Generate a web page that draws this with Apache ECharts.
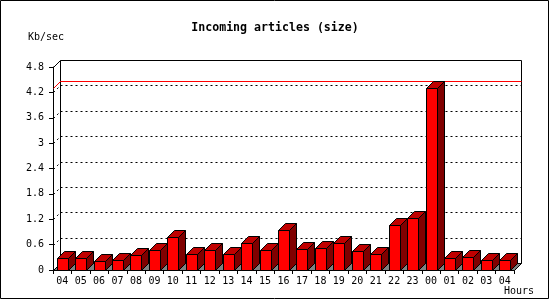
<!DOCTYPE html>
<html>
<head>
<meta charset="utf-8">
<script src="https://cdn.jsdelivr.net/npm/echarts@6/dist/echarts.min.js"></script>
<style>html,body{margin:0;padding:0;background:#fff}#c{width:550px;height:300px}</style>
</head>
<body>
<div id="c"></div>
<script>
const categories = ['04','05','06','07','08','09','10','11','12','13','14','15','16','17','18','19','20','21','22','23','00','01','02','03','04'];
const sizeValues = [0.28,0.28,0.21,0.24,0.35,0.47,0.77,0.37,0.47,0.37,0.63,0.47,0.95,0.50,0.51,0.63,0.45,0.39,1.06,1.22,4.30,0.28,0.30,0.24,0.24];
const yTicks = [0,0.6,1.2,1.8,2.4,3,3.6,4.2,4.8];
const titleText = 'Incoming articles (size)';
const yUnit = 'Kb/sec';
const xUnit = 'Hours';

const DEPTH = 7;
const MONO = '"DejaVu Sans Mono", "Liberation Mono", monospace';
const maxVal = Math.max(...sizeValues);
const yMin = yTicks[0], yMax = yTicks[yTicks.length-1], yInt = yTicks[1]-yTicks[0];

const chart = echarts.init(document.getElementById('c'), null, {renderer:'canvas'});
const h = v => Math.round(v) + 0.5;

const option = {
  animation: false,
  backgroundColor: '#fff',
  title: {
    text: titleText, left: 'center', top: 17,
    textStyle: {fontFamily: MONO, fontWeight: 'bold', fontSize: 11.6, color: '#000'}
  },
  grid: [
    {left: 53, right: 36, top: 67, bottom: 30, show: false}
  ],
  xAxis: [
    {gridIndex: 0, type: 'category', data: categories, boundaryGap: true,
     axisLine: {show: true, lineStyle: {color: '#000', width: 1}},
     axisTick: {show: true, alignWithLabel: false, length: 4, lineStyle: {color: '#000'}},
     axisLabel: {color: '#000', fontFamily: MONO, fontSize: 10, margin: 6, interval: 0},
     splitLine: {show: false}}
  ],
  yAxis: [
    {gridIndex: 0, type: 'value', min: yMin, max: yMax, interval: yInt,
     axisLine: {show: true, lineStyle: {color: '#000', width: 1}},
     axisTick: {show: true, length: 4, lineStyle: {color: '#000'}},
     axisLabel: {color: '#000', fontFamily: MONO, fontSize: 10, margin: 9},
     splitLine: {show: false}}
  ],
  graphic: [
    {id: 'border', type: 'rect', shape: {x: 0.5, y: 0.5, width: 548, height: 298}, style: {fill: null, stroke: '#000', lineWidth: 1}, z: 10},
    {id: 'yu', type: 'text', left: 28, top: 32, style: {text: yUnit, font: '10px ' + MONO, fill: '#000'}},
    {id: 'xu', type: 'text', left: 504, top: 286, style: {text: xUnit, font: '10px ' + MONO, fill: '#000'}}
  ],
  series: [
    {
      type: 'custom', xAxisIndex: 0, yAxisIndex: 0, z: 1, silent: true,
      data: [[0, maxVal]],
      renderItem: function (params, api) {
        const D = DEPTH;
        const slot = api.size([1, 0])[0];
        const n = categories.length;
        const x = h(api.coord([0, yMin])[0] - slot / 2);
        const xr = h(api.coord([n - 1, yMin])[0] + slot / 2);
        const yt = h(api.coord([0, yMax])[1]);
        const yb = h(api.coord([0, yMin])[1]);
        const children = [];
        // back wall
        children.push({type: 'rect', shape: {x: x + D, y: yt - D, width: xr - x, height: yb - yt},
          style: {fill: '#fff', stroke: '#000', lineWidth: 1}});
        yTicks.forEach(function (t) {
          if (t === yMin || t === yMax) return;
          const py = h(api.coord([0, t])[1]);
          children.push({type: 'line', shape: {x1: x + D, y1: py - D, x2: xr + D, y2: py - D},
            style: {stroke: '#000', lineWidth: 1, lineDash: [2, 3]}});
        });
        // floor
        children.push({type: 'polygon', shape: {points: [[x, yb],[xr, yb],[xr+D, yb-D],[x+D, yb-D]]},
          style: {fill: '#808080', stroke: '#000', lineWidth: 1}});
        // side wall diagonals
        yTicks.forEach(function (t) {
          if (t === yMin) return;
          const py = h(api.coord([0, t])[1]);
          children.push({type: 'line', shape: {x1: x, y1: py, x2: x + D, y2: py - D},
            style: {stroke: '#000', lineWidth: 1, lineDash: t === yMax ? null : [2, 3]}});
        });
        // max line
        const my = h(api.coord([0, api.value(1)])[1]);
        children.push({type: 'polyline', shape: {points: [[x, my],[x+D, my-D],[xr+D, my-D]]},
          style: {stroke: '#ff0000', lineWidth: 1, fill: null}});
        return {type: 'group', children: children};
      }
    },
    {
      type: 'custom', xAxisIndex: 0, yAxisIndex: 0, z: 3, silent: true,
      data: sizeValues.map((v, i) => [i, v]),
      renderItem: function (params, api) {
        const i = api.value(0), v = api.value(1);
        const p0 = api.coord([i, 0]);
        const p1 = api.coord([i, v]);
        const slot = api.size([1, 0])[0];
        const w = Math.round(slot * 0.6);
        const x0 = Math.round(p0[0] - w / 2) + 0.5;
        const yb = h(p0[1]);
        const yt = h(p1[1]);
        const d = DEPTH;
        const st = {stroke: '#000', lineWidth: 1};
        return {type: 'group', children: [
          {type: 'polygon', shape: {points: [[x0+w, yt],[x0+w+d, yt-d],[x0+w+d, yb-d],[x0+w, yb]]},
           style: Object.assign({fill: '#800000'}, st)},
          {type: 'polygon', shape: {points: [[x0, yt],[x0+d, yt-d],[x0+w+d, yt-d],[x0+w, yt]]},
           style: Object.assign({fill: '#c00000'}, st)},
          {type: 'rect', shape: {x: x0, y: yt, width: w, height: yb - yt},
           style: Object.assign({fill: '#ff0000'}, st)}
        ]};
      }
    }
  ]
};
chart.setOption(option);
</script>
</body>
</html>
